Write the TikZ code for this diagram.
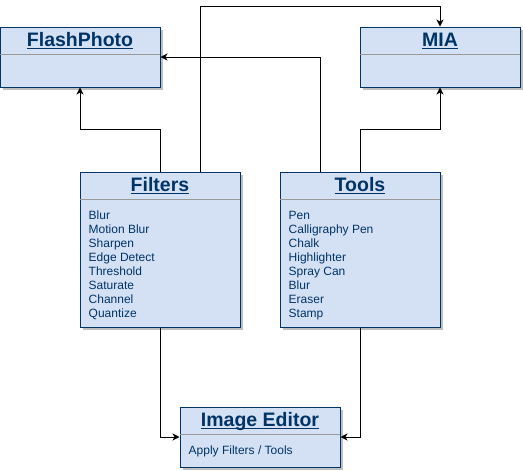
\documentclass[tikz,border=0pt]{standalone}
\usepackage{fontspec}
\setmainfont{Liberation Sans}
\usetikzlibrary{positioning,shadows,arrows.meta}

\definecolor{boxfill}{HTML}{D4E1F5}
\definecolor{boxline}{HTML}{003366}
\definecolor{divline}{HTML}{999999}
\newcommand{\TitleLine}[1]{\setbox0\hbox{#1}\rlap{\rule[-2.6pt]{\wd0}{1.5pt}}\box0}

\begin{document}
\begin{tikzpicture}[x=1pt,y=-1pt,
        % class box styles
        ClassBox/.style={rectangle, draw=boxline, fill=boxfill, line width=1pt, minimum width=160pt, inner sep=0pt,
            drop shadow={shadow xshift=3pt, shadow yshift=-3pt, fill=gray!50, opacity=1}},
        TitleText/.style={font=\fontsize{19.5}{22}\selectfont\bfseries, text=boxline, anchor=base, inner sep=0pt},
        BodyText/.style={font=\fontsize{12}{14}\selectfont, text=boxline, align=left, anchor=base west, inner sep=0pt},
        Divider/.style={draw=divline, line width=1pt},
        Link/.style={-{Stealth[length=7pt,width=7pt,inset=2pt]}, line width=1pt}]

        \useasboundingbox (0,0) rectangle (523,471);

        % boxes: name/centre x/centre y/height/title
        \foreach \name/\cx/\cy/\h/\title in {flash/80/57/60/FlashPhoto, mia/440/57/60/MIA,
                filters/160/249.5/155/Filters, tools/360/249.5/155/Tools, editor/260/437/60/Image Editor}{
            \node[ClassBox, minimum height=\h pt] (\name) at (\cx,\cy) {};
            \node[TitleText] (\name_t) at ([yshift=-20pt]\name.north) {\TitleLine{\title}};
            \draw[Divider] ([yshift=-28pt,xshift=0.5pt]\name.north west) -- ([yshift=-28pt,xshift=-0.5pt]\name.north east);
        }

        % body texts (base = last line)
        \node[BodyText] (filters_b) at ([xshift=9pt,yshift=-146pt]filters.north west)
            {Blur\\Motion Blur\\Sharpen\\Edge Detect\\Threshold\\Saturate\\Channel\\Quantize};
        \node[BodyText] (tools_b) at ([xshift=9pt,yshift=-146pt]tools.north west)
            {Pen\\Calligraphy Pen\\Chalk\\Highlighter\\Spray Can\\Blur\\Eraser\\Stamp};
        \node[BodyText] (editor_b) at ([xshift=9pt,yshift=-48pt]editor.north west) {Apply Filters / Tools};

        % connectors
        \draw[Link] (filters.north) -- ++(0,-42) -| (flash.south);
        \draw[Link] ([xshift=40pt]filters.north) -- ++(0,-165) -| (mia.north);
        \draw[Link] ([xshift=-40pt]tools.north) |- (flash.east);
        \draw[Link] (tools.north) -- ++(0,-42) -| (mia.south);
        \draw[Link] (filters.south) |- (editor.west);
        \draw[Link] (tools.south) |- (editor.east);
    \end{tikzpicture}
\end{document}
